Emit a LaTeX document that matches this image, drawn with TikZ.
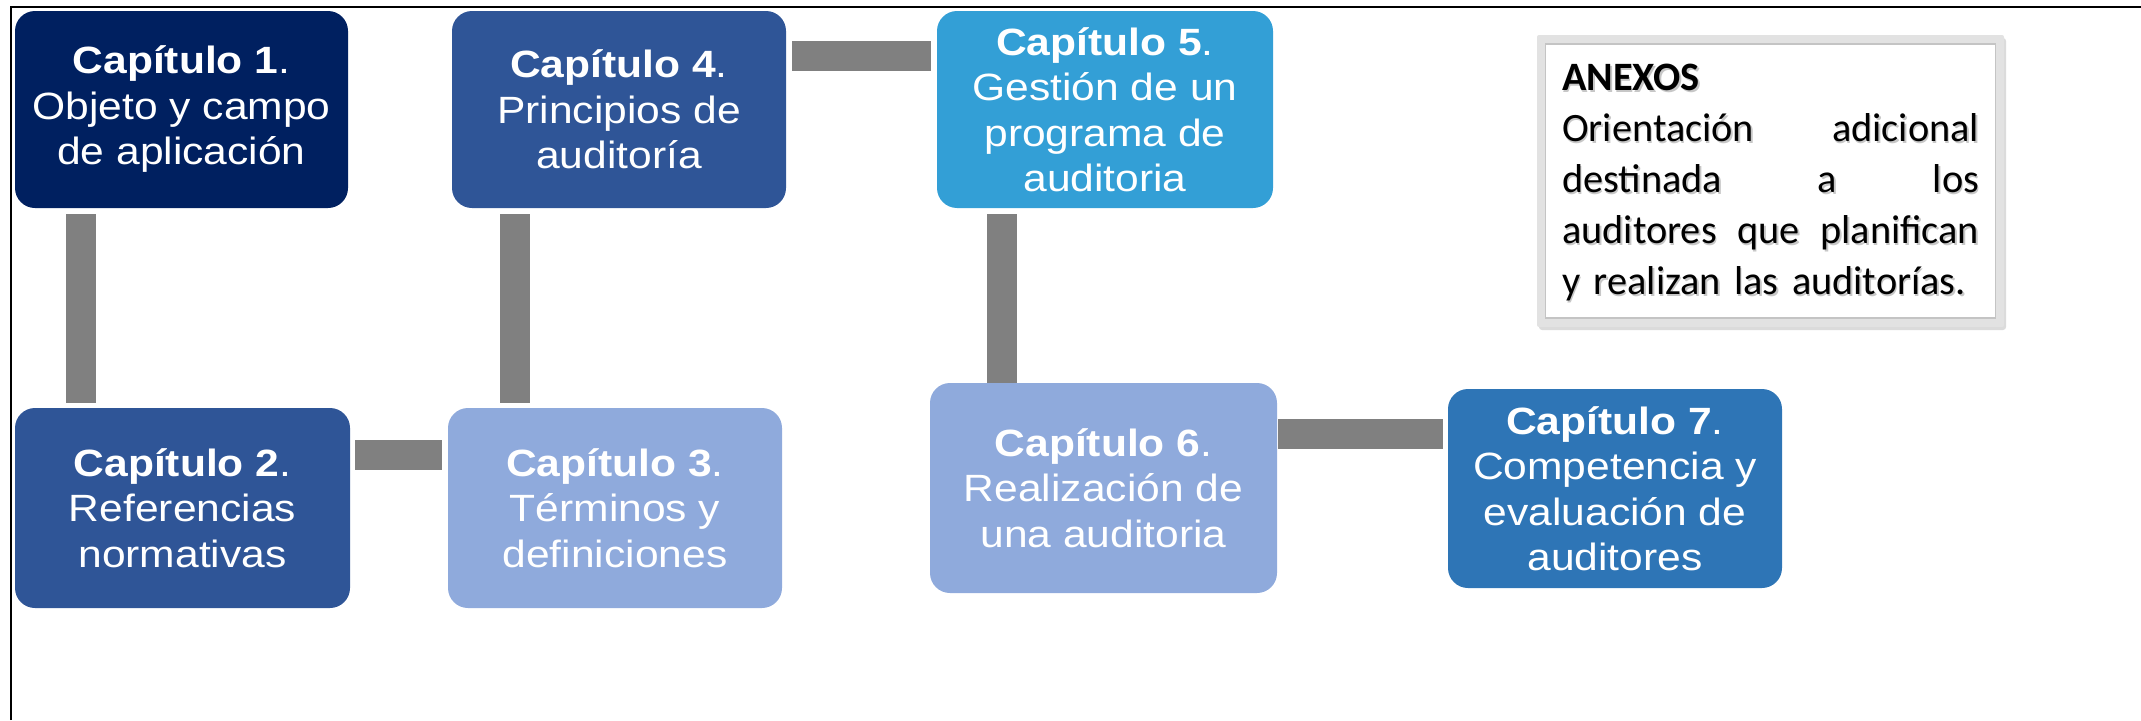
\documentclass[tikz,border=0pt]{standalone}
\usepackage{fontspec}
\setmainfont{Liberation Sans}[FakeStretch=1.12]
\newfontfamily\calibri{Carlito}
\usetikzlibrary{calc}
\definecolor{navy}{RGB}{0,32,96}
\definecolor{midblue}{RGB}{47,85,151}
\definecolor{skyblue}{RGB}{51,159,214}
\definecolor{lightblue}{RGB}{143,170,220}
\definecolor{steelblue}{RGB}{46,117,182}
\definecolor{bargray}{RGB}{128,128,128}
\definecolor{framegray}{RGB}{226,226,226}
\definecolor{edgegray}{RGB}{196,196,196}
\newcommand{\jline}[1]{\leavevmode\hbox to 417pt{#1}}
\begin{document}
\begin{tikzpicture}[x=1pt,y=-1pt,
  chap/.style={rectangle, rounded corners=20pt, inner sep=0pt, text=white,
    align=center, font=\fontsize{38}{45.5}\selectfont},
  conn/.style={draw=bargray, line width=30pt},
  anx/.style={inner sep=0pt, anchor=base west, text width=417pt, align=left,
    font=\calibri\fontsize{40.3}{51.2}\selectfont}]
\useasboundingbox (0,0) rectangle (2141,720);
% frame lines
\draw[line width=2pt] (11,720) -- (11,7) -- (2141,7);
% chapter boxes
\node[chap, fill=navy, minimum width=333pt, minimum height=197pt] (c1) at (181.5,109.5)
  {\textbf{Capítulo 1}.\\Objeto y campo\\de aplicación};
\node[chap, fill=midblue, minimum width=334pt, minimum height=197pt] (c4) at (619,109.5)
  {\textbf{Capítulo 4}.\\Principios de\\auditoría};
\node[chap, fill=skyblue, minimum width=336pt, minimum height=197pt] (c5) at (1105,109.5)
  {\textbf{Capítulo 5}.\\Gestión de un\\programa de\\auditoria};
\node[chap, fill=midblue, minimum width=335pt, minimum height=200pt] (c2) at (182.5,508)
  {\textbf{Capítulo 2}.\\Referencias\\normativas};
\node[chap, fill=lightblue, minimum width=334pt, minimum height=200pt] (c3) at (615,508)
  {\textbf{Capítulo 3}.\\Términos y\\definiciones};
\node[chap, fill=lightblue, minimum width=347pt, minimum height=210pt] (c6) at (1103.5,488)
  {\textbf{Capítulo 6}.\\Realización de\\una auditoria};
\node[chap, fill=steelblue, minimum width=334pt, minimum height=199pt] (c7) at (1615,488.5)
  {\textbf{Capítulo 7}.\\Competencia y\\evaluación de\\auditores};
% connectors
\draw[conn] ($(c1.south west)+(66,6)$) -- ($(c1.south west |- c2.north)+(66,-5)$);
\draw[conn] ($(c4.south west)+(63.5,6)$) -- ($(c4.south west |- c3.north)+(63.5,-5)$);
\draw[conn] ($(c4.north east)+(6,45)$) -- ($(c4.north east -| c5.west)+(-6,45)$);
\draw[conn] ($(c2.north east)+(5,47.5)$) -- ($(c2.north east -| c3.west)+(-6,47.5)$);
\draw[conn] ($(c5.south west)+(65,6)$) -- ($(c5.south west |- c6.north)+(65,0)$);
\draw[conn] ($(c6.north east)+(1,51.5)$) -- ($(c6.north east -| c7.west)+(-5,51.5)$);
% annex box
\fill[black!14, rounded corners=3pt] (1539,38) rectangle (2006,330);
\node[fill=framegray, rounded corners=2pt, minimum width=467pt, minimum height=292pt, inner sep=0pt] (anex) at (1770.5,181) {};
\node[fill=white, draw=edgegray, line width=1.5pt, minimum width=450pt, minimum height=274pt, inner sep=0pt] (anexin) at (anex.center) {};
\node[anx, text=black!22] (anexsh) at (1563.5,92)
  {\textbf{ANEXOS}\\
   \jline{Orientación\hfill adicional}\\
   \jline{destinada\hfill a\hfill los}\\
   \jline{auditores\hfil\ que\hfil\ planifican}\\
   y realizan las auditorías.};
\node[anx, text=black] (anextxt) at (1562,90)
  {\textbf{ANEXOS}\\
   \jline{Orientación\hfill adicional}\\
   \jline{destinada\hfill a\hfill los}\\
   \jline{auditores\hfil\ que\hfil\ planifican}\\
   y realizan las auditorías.};
\end{tikzpicture}
\end{document}
